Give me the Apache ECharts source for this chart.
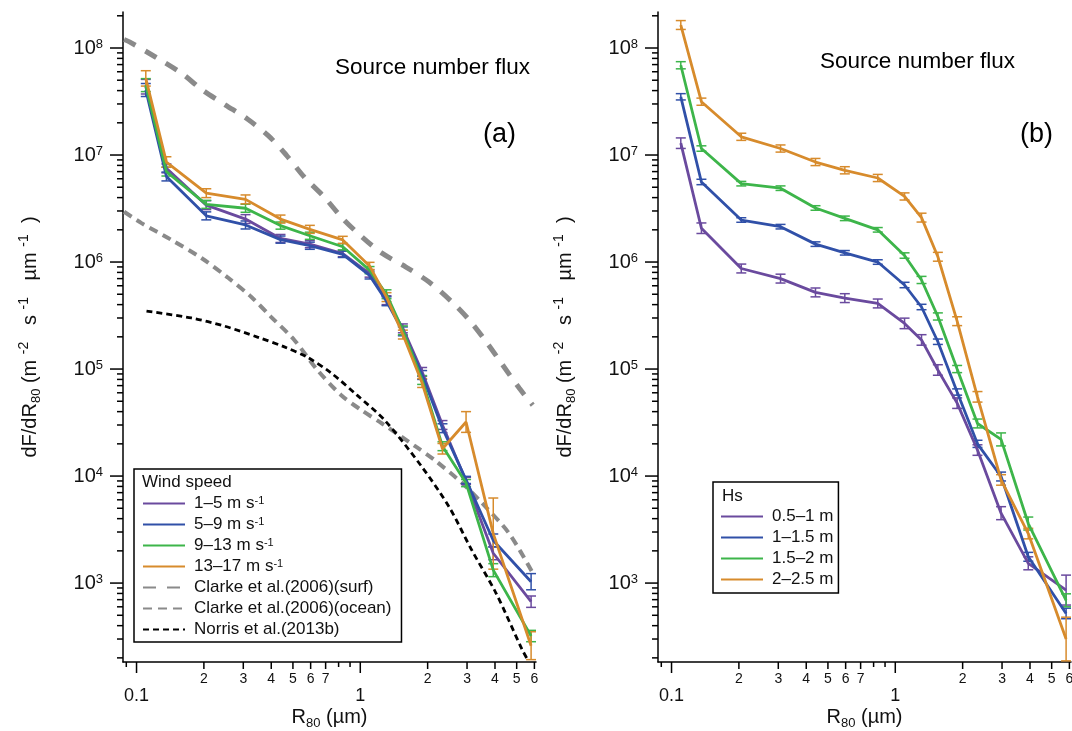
<!DOCTYPE html>
<html>
<head>
<meta charset="utf-8">
<script src="https://cdn.jsdelivr.net/npm/echarts@6/dist/echarts.min.js"></script>
<style>
html, body { margin: 0; padding: 0; background: #fff; }
#chart { width: 1072px; height: 731px; }
</style>
</head>
<body>
<div id="chart"></div>
<script>
// R80 bin centres (um), same for both panels
var r80 = [0.11, 0.136, 0.205, 0.307, 0.44, 0.595, 0.835, 1.1, 1.31, 1.55, 1.89, 2.33, 2.97, 3.93, 5.8];

// panel (a) - wind speed classes
var windNames = ['1–5', '5–9', '9–13', '13–17'];
var ws1 = [4.35e7, 7.5e6, 3.4e6, 2.52e6, 1.66e6, 1.47e6, 1.2e6, 7.8e5, 4.4e5, 2.4e5, 9.4e4, 3.0e4, 9.0e3, 1.9e3, 670];
var ws2 = [4.05e7, 6.3e6, 2.7e6, 2.22e6, 1.62e6, 1.42e6, 1.18e6, 7.5e5, 4.3e5, 2.25e5, 8.8e4, 2.8e4, 9.2e3, 2.5e3, 1030];
var ws3 = [4.5e7, 7.0e6, 3.46e6, 3.18e6, 2.19e6, 1.76e6, 1.39e6, 8.4e5, 5.0e5, 2.3e5, 7.9e4, 1.9e4, 8.6e3, 1.32e3, 320];
var ws4 = [5.2e7, 8.6e6, 4.4e6, 3.85e6, 2.52e6, 2.02e6, 1.61e6, 9.2e5, 4.7e5, 2.1e5, 7.4e4, 1.8e4, 3.2e4, 2.9e3, 260];
// relative error (+/- as a factor 1+e)
var eWs1 = [0.17, 0.10, 0.10, 0.10, 0.09, 0.08, 0.07, 0.08, 0.10, 0.10, 0.10, 0.10, 0.08, 0.15, 0.13];
var eWs2 = [0.15, 0.10, 0.09, 0.09, 0.08, 0.08, 0.07, 0.08, 0.10, 0.10, 0.10, 0.10, 0.08, 0.15, 0.19];
var eWs3 = [0.15, 0.10, 0.09, 0.09, 0.08, 0.08, 0.07, 0.08, 0.10, 0.10, 0.10, 0.10, 0.08, 0.15, 0.13];
var eWs4 = [0.18, 0.12, 0.10, 0.10, 0.09, 0.09, 0.08, 0.08, 0.10, 0.10, 0.10, 0.12, 0.25, 1.15, 0.35];

// reference parameterisations in panel (a)
var surfR = [0.088, 0.093, 0.122, 0.159, 0.197, 0.25, 0.313, 0.389, 0.467, 0.563, 0.69, 0.83, 1.02, 1.25, 1.6, 2.03, 2.58, 3.07, 3.66, 4.33, 5.14, 5.9];
var surfV = [1.2e8, 1.14e8, 8.2e7, 5.8e7, 4.05e7, 2.93e7, 2.17e7, 1.51e7, 1.0e7, 6.2e6, 4.05e6, 2.58e6, 1.71e6, 1.21e6, 8.97e5, 6.5e5, 4.2e5, 2.87e5, 1.79e5, 1.09e5, 6.6e4, 4.6e4];
var oceanR = [0.088, 0.1053, 0.1433, 0.195, 0.255, 0.326, 0.4, 0.507, 0.643, 0.822, 1.0, 1.25, 1.78, 2.15, 2.85, 3.5, 4.63, 5.95];
var oceanV = [2.95e6, 2.31e6, 1.61e6, 1.09e6, 7.2e5, 4.71e5, 3.06e5, 1.87e5, 9.8e4, 5.7e4, 4.2e4, 3.1e4, 1.87e4, 1.41e4, 8.6e3, 5.6e3, 2.9e3, 1.2e3];
var norrisR = [0.1108, 0.176, 0.247, 0.347, 0.458, 0.58, 0.74, 0.967, 1.29, 1.89, 2.5, 3.15, 4.04, 5.3, 5.65];
var norrisV = [3.48e5, 3.0e5, 2.52e5, 1.99e5, 1.61e5, 1.29e5, 9.2e4, 5.7e4, 3.3e4, 1.21e4, 5.1e3, 2.03e3, 807, 237, 186];
var refNames = ['Clarke et al.(2006)(surf)', 'Clarke et al.(2006)(ocean)', 'Norris et al.(2013b)'];

// panel (b) - significant wave height classes
var hsNames = ['0.5–1 m', '1–1.5 m', '1.5–2 m', '2–2.5 m'];
var hs1 = [1.29e7, 2.07e6, 8.7e5, 7.0e5, 5.2e5, 4.6e5, 4.1e5, 2.67e5, 1.87e5, 9.8e4, 4.8e4, 1.75e4, 4.5e3, 1.53e3, 860];
var hs2 = [3.5e7, 5.6e6, 2.47e6, 2.14e6, 1.47e6, 1.22e6, 1.0e6, 6.1e5, 3.8e5, 1.8e5, 6.1e4, 2.0e4, 9.9e3, 1.76e3, 520];
var hs3 = [6.9e7, 1.15e7, 5.4e6, 4.9e6, 3.2e6, 2.56e6, 2.0e6, 1.15e6, 6.8e5, 3.1e5, 1.0e5, 3.1e4, 2.2e4, 3.6e3, 690];
var hs4 = [1.64e8, 3.15e7, 1.48e7, 1.15e7, 8.6e6, 7.2e6, 6.1e6, 4.1e6, 2.6e6, 1.12e6, 2.8e5, 5.5e4, 9.2e3, 2.9e3, 300];
var eHs1 = [0.12, 0.12, 0.10, 0.10, 0.10, 0.10, 0.10, 0.12, 0.12, 0.12, 0.12, 0.12, 0.15, 0.15, 0.38];
var eHs2 = [0.07, 0.06, 0.05, 0.05, 0.05, 0.05, 0.05, 0.06, 0.06, 0.06, 0.07, 0.08, 0.10, 0.10, 0.12];
var eHs3 = [0.08, 0.06, 0.05, 0.05, 0.05, 0.05, 0.05, 0.06, 0.08, 0.08, 0.08, 0.10, 0.15, 0.15, 0.15];
var eHs4 = [0.10, 0.08, 0.08, 0.08, 0.08, 0.08, 0.08, 0.08, 0.10, 0.10, 0.10, 0.12, 0.12, 0.12, 0.60];

// axis ticks
var xMajor = [0.1, 1];
var xMajorText = ['0.1', '1'];
var xMinorLabeled = [0.2, 0.3, 0.4, 0.5, 0.6, 0.7, 2, 3, 4, 5, 6];
var xMinorText = ['2', '3', '4', '5', '6', '7', '2', '3', '4', '5', '6'];
var xMinorPlain = [0.09, 0.8, 0.9];
var yExps = [3, 4, 5, 6, 7, 8];

var X_MIN = 0.087, X_MAX = 6.1, Y_MIN = 183, Y_MAX = 2.17e8;
var colors = ['#6a4a9e', '#3050a8', '#3db54a', '#d78b2c'];
var FONT = 'Liberation Sans, Arial, sans-serif';

function pairs(xs, ys) {
    return xs.map(function (x, i) { return [x, ys[i]]; });
}

// tick lists; kind 2 major, 1 labelled minor, 0 plain minor
var xTicks = [];
xMajor.forEach(function (v, i) { xTicks.push({ v: v, kind: 2, text: xMajorText[i] }); });
xMinorLabeled.forEach(function (v, i) { xTicks.push({ v: v, kind: 1, text: xMinorText[i] }); });
xMinorPlain.forEach(function (v) { xTicks.push({ v: v, kind: 0, text: '' }); });

var yTicks = [];
for (var d = 2; d <= 8; d++) {
    var base = Math.pow(10, d);
    if (yExps.indexOf(d) >= 0) yTicks.push({ v: base, kind: 2, text: '{b|10}{s|' + d + '}' });
    for (var m = 2; m <= 9; m++) {
        if (base * m >= Y_MIN && base * m <= Y_MAX) yTicks.push({ v: base * m, kind: 0, text: '' });
    }
}

function xTickSeries(g) {
    return {
        type: 'custom', xAxisIndex: g, yAxisIndex: g, clip: false, silent: true, z: 5,
        data: xTicks.map(function (t) { return [t.v, t.kind]; }),
        renderItem: function (params, api) {
            var t = xTicks[params.dataIndex];
            var p = api.coord([t.v, Y_MIN]);
            var len = t.kind === 2 ? 11 : (t.kind === 1 ? 7 : 5);
            var kids = [{ type: 'line', shape: { x1: p[0], y1: p[1], x2: p[0], y2: p[1] + len },
                style: { stroke: '#000', lineWidth: 1.5 } }];
            if (t.text) {
                kids.push({ type: 'text', style: {
                    text: t.text, x: p[0], y: t.kind === 2 ? p[1] + 34 : p[1] + 17,
                    align: 'center', verticalAlign: 'middle', fill: '#111',
                    font: (t.kind === 2 ? '18px ' : '14px ') + FONT } });
            }
            return { type: 'group', children: kids };
        }
    };
}

function yTickSeries(g) {
    return {
        type: 'custom', xAxisIndex: g, yAxisIndex: g, clip: false, silent: true, z: 5,
        data: yTicks.map(function (t) { return [X_MIN, t.v]; }),
        renderItem: function (params, api) {
            var t = yTicks[params.dataIndex];
            var p = api.coord([X_MIN, t.v]);
            var len = t.kind === 2 ? 13 : 6;
            var kids = [{ type: 'line', shape: { x1: p[0] - len, y1: p[1], x2: p[0], y2: p[1] },
                style: { stroke: '#000', lineWidth: 1.5 } }];
            if (t.text) {
                kids.push({ type: 'text', style: {
                    text: t.text, x: p[0] - len - 7, y: p[1],
                    align: 'right', verticalAlign: 'middle', fill: '#111',
                    rich: {
                        b: { fontSize: 20, fontFamily: FONT, lineHeight: 20, padding: [8, 0, 0, 0], verticalAlign: 'bottom' },
                        s: { fontSize: 13, fontFamily: FONT, verticalAlign: 'top' }
                    } } });
            }
            return { type: 'group', children: kids };
        }
    };
}

function errSeries(g, vals, errs, color) {
    return {
        type: 'custom', name: 'err', xAxisIndex: g, yAxisIndex: g, clip: true, silent: true, z: 3,
        data: r80.map(function (x, i) { return [x, vals[i] / (1 + errs[i]), vals[i] * (1 + errs[i])]; }),
        encode: { x: 0, y: [1, 2] },
        renderItem: function (params, api) {
            var lo = api.coord([api.value(0), api.value(1)]);
            var hi = api.coord([api.value(0), api.value(2)]);
            var st = { stroke: color, lineWidth: 1.5 };
            return { type: 'group', children: [
                { type: 'line', shape: { x1: lo[0], y1: lo[1], x2: hi[0], y2: hi[1] }, style: st },
                { type: 'line', shape: { x1: lo[0] - 5, y1: lo[1], x2: lo[0] + 5, y2: lo[1] }, style: st },
                { type: 'line', shape: { x1: hi[0] - 5, y1: hi[1], x2: hi[0] + 5, y2: hi[1] }, style: st }
            ] };
        }
    };
}

function dataLine(g, name, vals, color) {
    return {
        type: 'line', name: name, xAxisIndex: g, yAxisIndex: g, z: 4,
        data: pairs(r80, vals), symbol: 'none', showSymbol: false,
        lineStyle: { color: color, width: 2.8 }, itemStyle: { color: color }
    };
}

function refLine(name, xs, ys, color, width, dash) {
    return {
        type: 'line', name: name, xAxisIndex: 0, yAxisIndex: 0, z: 2, smooth: 0.3,
        data: pairs(xs, ys), symbol: 'none', showSymbol: false,
        lineStyle: { color: color, width: width, type: dash }, itemStyle: { color: color }
    };
}

var series = [
    refLine(refNames[0], surfR, surfV, '#8a8a8a', 5, [13, 11]),
    refLine(refNames[1], oceanR, oceanV, '#8a8a8a', 4, [9, 6]),
    refLine(refNames[2], norrisR, norrisV, '#000', 2.8, [6, 4])
];
[[ws1, eWs1], [ws2, eWs2], [ws3, eWs3], [ws4, eWs4]].forEach(function (s, i) {
    series.push(errSeries(0, s[0], s[1], colors[i]));
    series.push(dataLine(0, windNames[i], s[0], colors[i]));
});
[[hs1, eHs1], [hs2, eHs2], [hs3, eHs3], [hs4, eHs4]].forEach(function (s, i) {
    series.push(errSeries(1, s[0], s[1], colors[i]));
    series.push(dataLine(1, hsNames[i], s[0], colors[i]));
});
series.push(xTickSeries(0), xTickSeries(1), yTickSeries(0), yTickSeries(1));

var yName = 'dF/dR{sub|80} (m {sup|-2}   s {sup|-1}   µm {sup|-1}  )';
var nameRich = {
    sub: { fontSize: 13, fontFamily: FONT, verticalAlign: 'bottom', lineHeight: 26 },
    sup: { fontSize: 14, fontFamily: FONT, verticalAlign: 'top', lineHeight: 26 }
};

function xAx(g) {
    return {
        type: 'log', gridIndex: g, min: X_MIN, max: X_MAX,
        name: 'R{sub|80} (µm)', nameLocation: 'middle', nameGap: 42,
        nameTextStyle: { fontSize: 20, color: '#111', fontFamily: FONT, lineHeight: 26, rich: nameRich },
        axisLine: { onZero: false, lineStyle: { color: '#000', width: 1.5 } },
        axisTick: { show: false }, axisLabel: { show: false }, splitLine: { show: false }
    };
}
function yAx(g) {
    return {
        type: 'log', gridIndex: g, min: Y_MIN, max: Y_MAX,
        name: yName, nameLocation: 'middle', nameGap: 80, nameRotate: 90,
        nameTextStyle: { fontSize: 20, color: '#111', fontFamily: FONT, lineHeight: 26, rich: nameRich },
        axisLine: { lineStyle: { color: '#000', width: 1.5 } },
        axisTick: { show: false }, axisLabel: { show: false }, splitLine: { show: false }
    };
}

var legendText = {
    fontSize: 17, color: '#111', fontFamily: FONT, padding: [0, 0, 0, 4], lineHeight: 17,
    rich: { s: { fontSize: 11, fontFamily: FONT, verticalAlign: 'top', lineHeight: 17 } }
};
// line-only legend keys, no marker
var legendSymbol = { color: 'transparent', borderColor: 'transparent', borderWidth: 0 };
var titleStyle = { fontSize: 22.5, fontWeight: 'normal', color: '#000', fontFamily: FONT };
var tagStyle = { fontSize: 27, fontWeight: 'normal', color: '#000', fontFamily: FONT };
var boxTitleStyle = { fontSize: 17, fontWeight: 'normal', color: '#111', fontFamily: FONT };

var option = {
    animation: false,
    backgroundColor: '#fff',
    textStyle: { fontFamily: FONT },
    grid: [
        { left: 123, top: 12, width: 413, height: 650, outerBoundsMode: 'none' },
        { left: 658, top: 12, width: 413, height: 650, outerBoundsMode: 'none' }
    ],
    xAxis: [xAx(0), xAx(1)],
    yAxis: [yAx(0), yAx(1)],
    title: [
        { text: 'Source number flux', left: 335, top: 56, padding: 0, textStyle: titleStyle },
        { text: 'Source number flux', left: 820, top: 50, padding: 0, textStyle: titleStyle },
        { text: '(a)', left: 483, top: 121, padding: 0, textStyle: tagStyle },
        { text: '(b)', left: 1020, top: 121, padding: 0, textStyle: tagStyle },
        { text: 'Wind speed', left: 142, top: 474, padding: 0, textStyle: boxTitleStyle },
        { text: 'Hs', left: 722, top: 488, padding: 0, textStyle: boxTitleStyle }
    ],
    legend: [
        {
            data: windNames.concat(refNames), orient: 'vertical', left: 134, top: 469,
            padding: [26, 10, 4, 8], itemGap: 4, itemWidth: 42, itemHeight: 14,
            borderColor: '#000', borderWidth: 1.5, selectedMode: false,
            itemStyle: legendSymbol,
            textStyle: legendText,
            formatter: function (name) {
                return windNames.indexOf(name) >= 0 ? name + ' m s{s|-1}' : name;
            }
        },
        {
            data: hsNames, orient: 'vertical', left: 713, top: 482,
            padding: [26, 5, 5, 7], itemGap: 4, itemWidth: 42, itemHeight: 14,
            borderColor: '#000', borderWidth: 1.5, selectedMode: false,
            itemStyle: legendSymbol,
            textStyle: legendText
        }
    ],
    series: series
};

var chart = echarts.init(document.getElementById('chart'));
chart.setOption(option);
</script>
</body>
</html>
